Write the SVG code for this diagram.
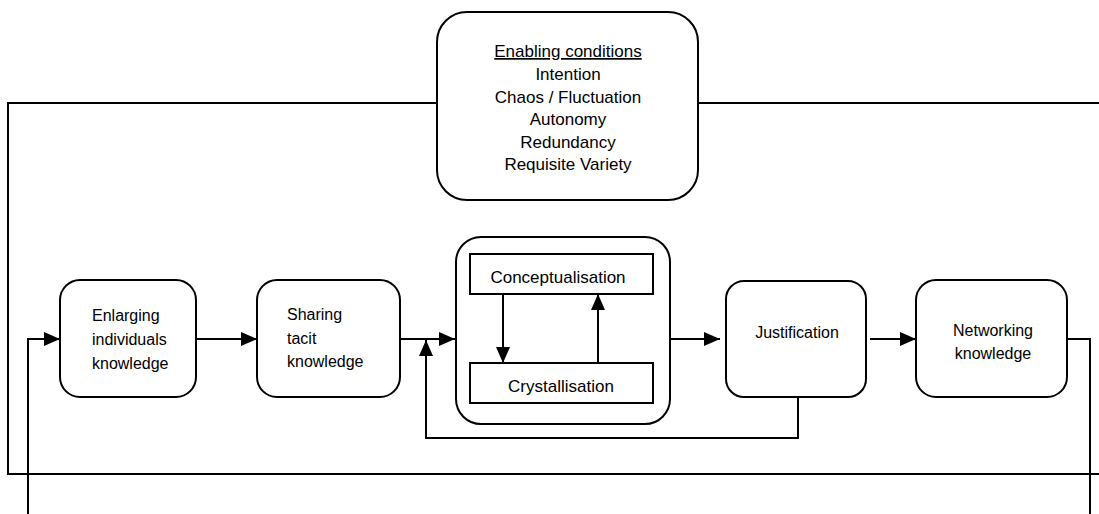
<svg xmlns="http://www.w3.org/2000/svg" width="1099" height="514" viewBox="0 0 1099 514">
<style>
.box{fill:#fff;stroke:#000;stroke-width:2}
.ln{fill:none;stroke:#000;stroke-width:2}
.t{font-family:"Liberation Sans",Arial,sans-serif;font-size:16px;fill:#000}
.t17{font-family:"Liberation Sans",Arial,sans-serif;font-size:17px;fill:#000}
.c{text-anchor:middle}
</style>
<defs>
<marker id="ah" markerUnits="userSpaceOnUse" markerWidth="16" markerHeight="14" refX="16" refY="7" orient="auto">
<path d="M0,0 L16,7 L0,14 z" fill="#000"/>
</marker>
</defs>
<rect width="1099" height="514" fill="#fff"/>
<g id="enabling">
<rect class="box" x="437" y="12" width="261" height="188" rx="30" ry="30"/>
<text class="t17 c" x="568" y="57" text-decoration="underline">Enabling conditions</text>
<text class="t17 c" x="568" y="80">Intention</text>
<text class="t17 c" x="568" y="102.5">Chaos / Fluctuation</text>
<text class="t17 c" x="568" y="125">Autonomy</text>
<text class="t17 c" x="568" y="147.5">Redundancy</text>
<text class="t17 c" x="568" y="170">Requisite Variety</text>
</g>
<g id="enlarging">
<rect class="box" x="60" y="280" width="136" height="117" rx="20" ry="20"/>
<text class="t" x="92" y="321">Enlarging</text>
<text class="t" x="92" y="345">individuals</text>
<text class="t" x="92" y="369">knowledge</text>
</g>
<g id="sharing">
<rect class="box" x="257" y="280" width="143" height="117" rx="20" ry="20"/>
<text class="t" x="287" y="320">Sharing</text>
<text class="t" x="287" y="344">tacit</text>
<text class="t" x="287" y="367">knowledge</text>
</g>
<g id="container">
<rect class="box" x="456" y="237" width="214" height="187" rx="25" ry="25"/>
</g>
<g id="conceptualisation">
<rect class="box" x="470" y="254" width="183" height="40"/>
<text class="t17 c" x="558" y="283">Conceptualisation</text>
</g>
<g id="crystallisation">
<rect class="box" x="470" y="363" width="183" height="40"/>
<text class="t17 c" x="561" y="392">Crystallisation</text>
</g>
<g id="justification">
<rect class="box" x="726" y="281" width="140" height="116" rx="18" ry="18"/>
<text class="t c" x="797" y="338">Justification</text>
</g>
<g id="networking">
<rect class="box" x="916" y="280" width="151" height="117" rx="20" ry="20"/>
<text class="t c" x="993" y="336">Networking</text>
<text class="t c" x="993" y="359">knowledge</text>
</g>
<g id="connectors">
<path class="ln" d="M437 103 H8 V474 H1099"/>
<path class="ln" d="M698 103 H1099"/>
<path class="ln" d="M196 339 H257" marker-end="url(#ah)"/>
<path class="ln" d="M400 339 H455" marker-end="url(#ah)"/>
<path class="ln" d="M798 398 V438 H426 V340" marker-end="url(#ah)"/>
<path class="ln" d="M670 339 H720" marker-end="url(#ah)"/>
<path class="ln" d="M870 339 H916" marker-end="url(#ah)"/>
<path class="ln" d="M1067 339 H1090 V514"/>
<path class="ln" d="M28 514 V339 H60" marker-end="url(#ah)"/>
<path class="ln" d="M503 295 V363" marker-end="url(#ah)"/>
<path class="ln" d="M598 362 V294" marker-end="url(#ah)"/>
</g>
</svg>
